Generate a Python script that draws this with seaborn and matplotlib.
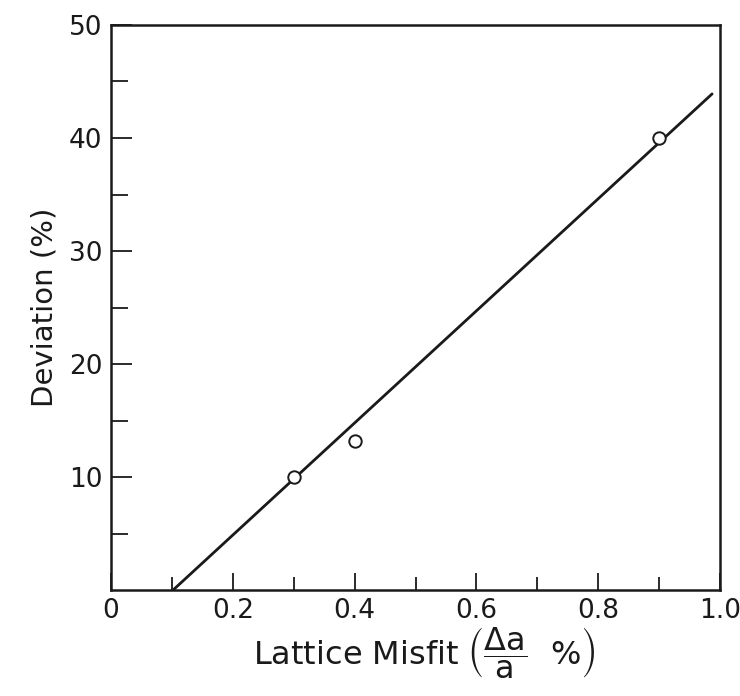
import numpy as np
import pandas as pd
import matplotlib
matplotlib.use("Agg")
import matplotlib.pyplot as plt
import seaborn as sns
from matplotlib.ticker import FixedLocator

# Data
misfit = [0.30, 0.40, 0.90]
deviation = [10.0, 13.2, 40.0]
fit_x = [0.102, 0.987]
fit_y = [0.0, 43.9]
xticks = [0, 0.2, 0.4, 0.6, 0.8, 1.0]
xticklabels = ["0", "0.2", "0.4", "0.6", "0.8", "1.0"]
yticks = [10, 20, 30, 40, 50]
yticklabels = ["10", "20", "30", "40", "50"]

sns.set_theme(style="ticks")
plt.rcParams['font.family'] = ['DejaVu Sans']
plt.rcParams['mathtext.fontset'] = 'dejavusans'

df_pts = pd.DataFrame({"x": misfit, "y": deviation})
df_fit = pd.DataFrame({"x": fit_x, "y": fit_y})

fig = plt.figure(figsize=(7.4, 6.96), dpi=100)
ax = fig.add_axes([111/740, 1 - 590/696, (720-111)/740, (590-25)/696])

sns.lineplot(data=df_fit, x="x", y="y", ax=ax, color="#1a1a1a", linewidth=2.0)
sns.scatterplot(data=df_pts, x="x", y="y", ax=ax, marker="o", s=80,
                facecolor="white", edgecolor="#1a1a1a", linewidth=1.4, zorder=5)

ax.set_xlim(0, 1.0)
ax.set_ylim(0, 50)
ax.set_xticks(xticks)
ax.set_xticklabels(xticklabels)
ax.set_yticks(yticks)
ax.set_yticklabels(yticklabels)
ax.xaxis.set_minor_locator(FixedLocator([0.1, 0.3, 0.5, 0.7, 0.9]))
ax.yaxis.set_minor_locator(FixedLocator([5, 15, 25, 35, 45]))

ax.tick_params(axis="x", which="major", direction="in", length=12, width=1.3,
               labelsize=19, pad=6, colors="#1a1a1a")
ax.tick_params(axis="x", which="minor", direction="in", length=9.5, width=1.3,
               colors="#1a1a1a")
ax.tick_params(axis="y", which="major", direction="in", length=15, width=1.3,
               labelsize=19, pad=6, colors="#1a1a1a")
ax.tick_params(axis="y", which="minor", direction="in", length=12, width=1.3,
               colors="#1a1a1a")

for s in ax.spines.values():
    s.set_linewidth(1.8)
    s.set_color("#1a1a1a")
    s.set_visible(True)

ax.set_xlabel(r"Lattice Misfit $\left(\dfrac{\Delta \mathrm{a}}{\mathrm{a}}\ \ \%\right)$",
              fontsize=23, color="#1a1a1a", labelpad=0)
ax.xaxis.set_label_coords(0.515, -0.062)
ax.xaxis.label.set_va("top")
ax.set_ylabel("Deviation (%)", fontsize=21, color="#1a1a1a", labelpad=8)

fig.savefig("out.png", dpi=100, facecolor="white")
